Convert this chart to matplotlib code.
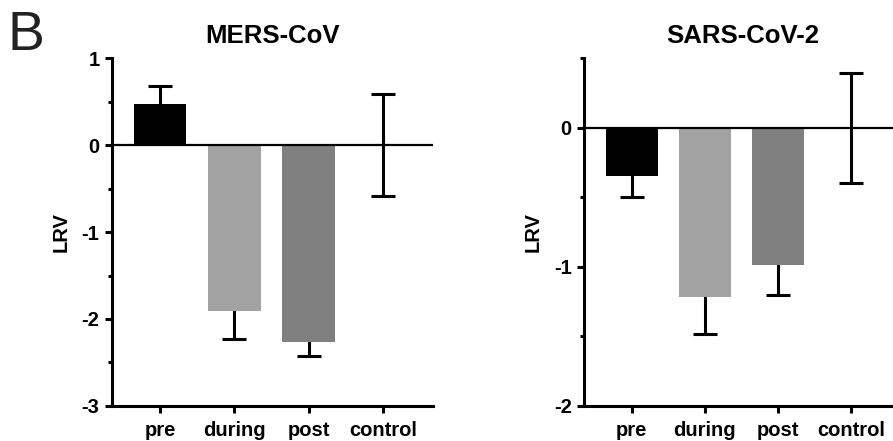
import numpy as np
import matplotlib.pyplot as plt

plt.rcParams['font.family'] = ['Liberation Sans', 'DejaVu Sans']
plt.rcParams['axes.unicode_minus'] = False

# === DATA ===
groups = ['pre', 'during', 'post', 'control']
colors = ['#000000', '#a2a2a2', '#808080', '#ffffff']

mers_mean = [0.47, -1.91, -2.26, 0.0]
mers_err = [0.21, 0.32, 0.17, 0.59]

sars_mean = [-0.345, -1.22, -0.985, 0.0]
sars_err = [0.15, 0.26, 0.215, 0.395]

panels = [
    ('MERS-CoV', mers_mean, mers_err, (-3, 1), [1, 0, -1, -2, -3]),
    ('SARS-CoV-2', sars_mean, sars_err, (-2, 0.5), [0, -1, -2]),
]

fig = plt.figure(figsize=(8.93, 4.41), dpi=100)
axes_pos = [
    [0.1254, 0.0794, 0.3595, 0.789],
    [0.6543, 0.0794, 0.354, 0.789],
]

x = np.arange(len(groups))
for (title, mean, err, ylim, yticks), pos in zip(panels, axes_pos):
    ax = fig.add_axes(pos)
    # error bars drawn behind the bars (graphpad style: only the outer half shows)
    ax.errorbar(x, mean, yerr=err, fmt='none', ecolor='black', elinewidth=2.2,
                capsize=8.6, capthick=2.2, zorder=1)
    ax.bar(x, mean, width=0.71, color=colors, zorder=2)
    ax.axhline(0, color='black', lw=1.6, zorder=3)

    ax.set_xlim(-0.645, 3.67)
    ax.set_ylim(*ylim)
    ax.set_yticks(yticks)
    ax.set_yticks(np.arange(ylim[0], ylim[1] + 0.01, 0.5), minor=True)
    ax.set_xticks(x)
    ax.set_xticklabels(groups)

    for s in ['top', 'right']:
        ax.spines[s].set_visible(False)
    for s in ['left', 'bottom']:
        ax.spines[s].set_linewidth(2.2)

    ax.tick_params(axis='both', which='major', length=5, width=2.2,
                   labelsize=14.5, pad=4)
    ax.tick_params(axis='y', which='minor', length=3, width=2.2)
    ax.tick_params(axis='x', pad=6)
    for lab in ax.get_xticklabels() + ax.get_yticklabels():
        lab.set_fontweight('bold')

    ax.set_ylabel('LRV', fontsize=14.5, fontweight='bold', labelpad=8)
    ax.set_title(title, fontsize=18.5, fontweight='bold', pad=11)

fig.text(0.008, 0.887, 'B', fontsize=40, color='#222222', va='baseline', ha='left')

plt.savefig('out.png', dpi=100)
